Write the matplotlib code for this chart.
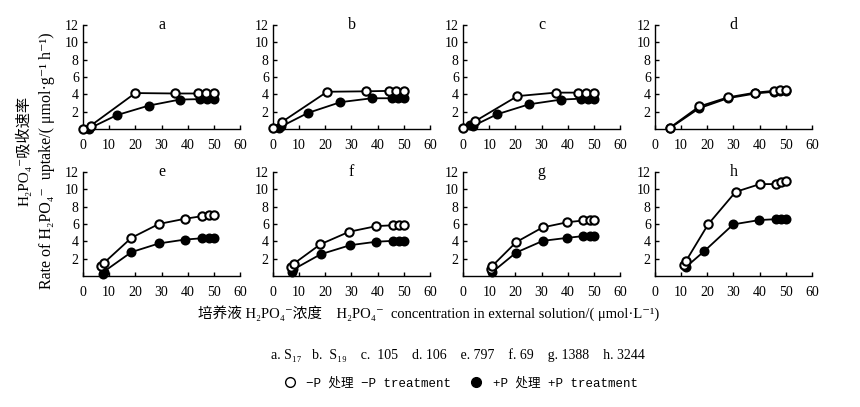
import matplotlib
matplotlib.use("Agg")
import matplotlib.pyplot as plt
from matplotlib.lines import Line2D

plt.rcParams['font.family'] = ['Liberation Serif', 'DejaVu Serif', 'Noto Sans CJK SC']

# panel letters
panels = ['a', 'b', 'c', 'd', 'e', 'f', 'g', 'h']

# -P treatment (open circles)
x_minus = {
    'a': [0, 3, 20, 35, 44, 47, 50],
    'b': [0, 3.6, 20.7, 35.4, 44.2, 47.1, 50],
    'c': [0, 4.6, 20.8, 35.4, 44.1, 47, 50],
    'd': [5.7, 16.9, 27.8, 38.4, 45.3, 47.6, 50],
    'e': [7, 8, 18.5, 29, 39, 45.5, 48, 50],
    'f': [6.8, 7.9, 18.1, 29.1, 39.5, 45.9, 48.1, 50],
    'g': [10.5, 11, 20.3, 30.4, 39.9, 46, 48.4, 50],
    'h': [10.9, 11.9, 20.3, 30.8, 40.1, 46.2, 48.3, 50],
}
y_minus = {
    'a': [0.05, 0.4, 4.15, 4.1, 4.1, 4.1, 4.15],
    'b': [0.1, 0.85, 4.3, 4.35, 4.4, 4.4, 4.4],
    'c': [0.15, 0.9, 3.8, 4.2, 4.2, 4.2, 4.2],
    'd': [0.15, 2.6, 3.65, 4.2, 4.4, 4.5, 4.55],
    'e': [1.1, 1.5, 4.4, 6.0, 6.6, 6.9, 7.0, 7.0],
    'f': [1.05, 1.4, 3.65, 5.1, 5.75, 5.85, 5.85, 5.85],
    'g': [0.8, 1.1, 3.9, 5.6, 6.2, 6.4, 6.45, 6.45],
    'h': [1.25, 1.75, 5.95, 9.7, 10.6, 10.6, 10.8, 10.9],
}

# +P treatment (filled circles)
x_plus = {
    'a': [2.3, 12.9, 25.1, 37, 44.8, 47.4, 50],
    'b': [2.3, 3.2, 13.3, 25.8, 37.8, 45.5, 47.6, 50],
    'c': [2.8, 3.8, 13, 25.2, 37.5, 44.9, 47.6, 50],
    'd': [5.7, 16.9, 27.8, 38.4, 45.3, 47.6, 50],
    'e': [7.5, 8, 18.5, 29, 39, 45.5, 48, 50],
    'f': [7.4, 7.8, 18.2, 29.5, 39.5, 45.9, 48.1, 50],
    'g': [11, 20.3, 30.5, 39.9, 46, 48.4, 50],
    'h': [11.7, 18.8, 29.9, 39.9, 46.2, 48.1, 50],
}
y_plus = {
    'a': [0.05, 1.6, 2.7, 3.4, 3.45, 3.45, 3.45],
    'b': [0.15, 0.3, 1.85, 3.1, 3.55, 3.55, 3.55, 3.55],
    'c': [0.45, 0.35, 1.7, 2.85, 3.4, 3.5, 3.5, 3.5],
    'd': [0.1, 2.4, 3.55, 4.1, 4.3, 4.35, 4.35],
    'e': [0.2, 0.5, 2.75, 3.75, 4.2, 4.35, 4.4, 4.4],
    'f': [0.4, 0.75, 2.5, 3.55, 3.95, 4.05, 4.05, 4.05],
    'g': [0.4, 2.7, 4.05, 4.4, 4.6, 4.6, 4.6],
    'h': [1.0, 2.85, 5.95, 6.45, 6.55, 6.55, 6.55],
}

xticks = [0, 10, 20, 30, 40, 50, 60]
yticks = [2, 4, 6, 8, 10, 12]

fig = plt.figure(figsize=(8.6, 4.07), dpi=100)

lefts = [0.0965, 0.3174, 0.5384, 0.7616]
bottoms = [0.683, 0.322]
w, h = 0.1826, 0.2555

for i, p in enumerate(panels):
    ax = fig.add_axes([lefts[i % 4], bottoms[i // 4], w, h])
    ax.plot(x_plus[p], y_plus[p], '-o', color='black', lw=1.3, ms=6,
            mfc='black', mec='black', mew=1.2, clip_on=False, zorder=3)
    ax.plot(x_minus[p], y_minus[p], '-o', color='black', lw=1.3, ms=6,
            mfc='white', mec='black', mew=1.5, clip_on=False, zorder=4)
    ax.set_xlim(0, 60)
    ax.set_ylim(0, 12)
    ax.set_xticks(xticks)
    ax.set_yticks(yticks)
    ax.spines['top'].set_visible(False)
    ax.spines['right'].set_visible(False)
    for s in ('left', 'bottom'):
        ax.spines[s].set_linewidth(1.0)
    ax.tick_params(direction='in', length=3, width=1.0, labelsize=10)
    ax.tick_params(axis='x', pad=7)
    ax.tick_params(axis='y', pad=3)
    ax.text(0.5, 1.0, p, transform=ax.transAxes, ha='center', va='center', fontsize=11.5)

fig.text(0.027, 0.63, "H₂PO₄⁻吸收速率", rotation=90, ha='center', va='center', fontsize=11)
fig.text(0.055, 0.605, "Rate of H₂PO₄⁻  uptake/( μmol·g⁻¹ h⁻¹)", rotation=90,
         ha='center', va='center', fontsize=11.5)

fig.text(0.498, 0.231, "培养液 H₂PO₄⁻浓度    H₂PO₄⁻  concentration in external solution/( μmol·L⁻¹)",
         ha='center', va='center', fontsize=10.5)

fig.text(0.532, 0.128, "a. S₁₇   b.  S₁₉    c.  105    d. 106    e. 797    f. 69    g. 1388    h. 3244",
         ha='center', va='center', fontsize=10)

handles = [Line2D([], [], ls='none', marker='o', ms=7, mfc='white', mec='black', mew=1.0),
           Line2D([], [], ls='none', marker='o', ms=7, mfc='black', mec='black')]
labels = ["−P 处理 −P treatment", "+P 处理 +P treatment"]
fig.legend(handles, labels, loc='center', bbox_to_anchor=(0.532, 0.059), ncol=2,
           frameon=False, handletextpad=0.3, columnspacing=1.0,
           prop={'family': ['Liberation Mono', 'Noto Sans CJK SC'], 'size': 9})

fig.savefig('out.png', dpi=100)
